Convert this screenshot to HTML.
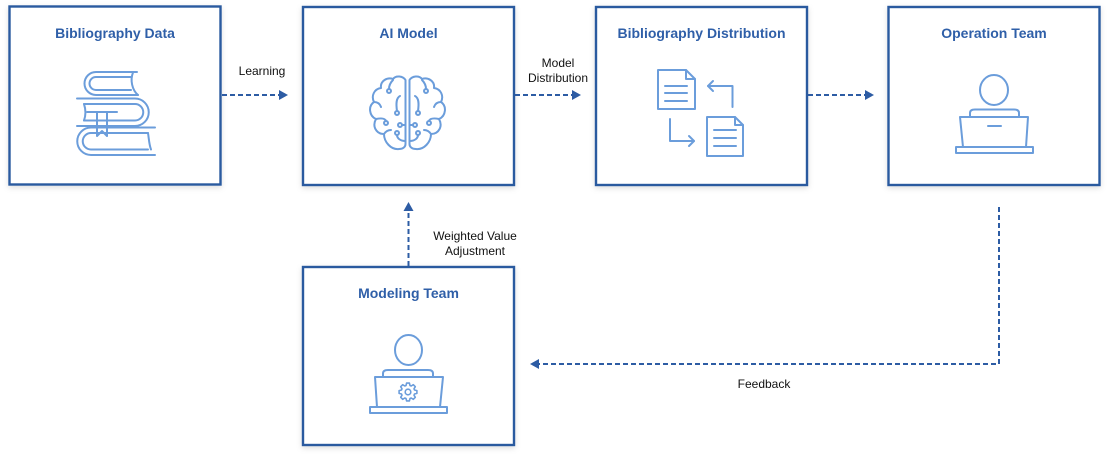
<!DOCTYPE html>
<html>
<head>
<meta charset="utf-8">
<style>
  html, body { margin:0; padding:0; background:#ffffff; }
  body { width:1110px; height:458px; overflow:hidden; }
  svg { display:block; }
  .title { font-family:"Liberation Sans", sans-serif; font-weight:bold; font-size:14px; fill:#2f5fa8; }
  .lbl { font-family:"Liberation Sans", sans-serif; font-size:12px; fill:#111111; }
  .box { fill:#ffffff; stroke:#2c5a9f; stroke-width:2.4; }
  .ic { fill:none; stroke:#6b9ddb; stroke-width:2; stroke-linecap:round; stroke-linejoin:round; }
  .dash { fill:none; stroke:#2d5ca4; stroke-width:2; stroke-dasharray:5 3; }
  .ah { fill:#2d5ca4; }
</style>
</head>
<body>
<svg width="1110" height="458" viewBox="0 0 1110 458" xmlns="http://www.w3.org/2000/svg">
  <defs>
    <filter id="sh" x="-10%" y="-10%" width="120%" height="125%">
      <feDropShadow dx="0" dy="2" stdDeviation="3" flood-color="#000" flood-opacity="0.13"/>
    </filter>
  </defs>

  <!-- Boxes -->
  <rect class="box" x="9.5" y="6.5" width="211" height="178" filter="url(#sh)"/>
  <rect class="box" x="303" y="7" width="211" height="178" filter="url(#sh)"/>
  <rect class="box" x="596" y="7" width="211" height="178" filter="url(#sh)"/>
  <rect class="box" x="888.5" y="7" width="211" height="178" filter="url(#sh)"/>
  <rect class="box" x="303" y="267" width="211" height="178" filter="url(#sh)"/>

  <!-- Titles -->
  <text class="title" x="115" y="38" text-anchor="middle">Bibliography Data</text>
  <text class="title" x="408.5" y="38" text-anchor="middle">AI Model</text>
  <text class="title" x="701.5" y="38" text-anchor="middle">Bibliography Distribution</text>
  <text class="title" x="994" y="38" text-anchor="middle">Operation Team</text>
  <text class="title" x="408.5" y="298" text-anchor="middle">Modeling Team</text>

  <!-- Connectors -->
  <line class="dash" x1="222" y1="95" x2="281" y2="95"/>
  <polygon class="ah" points="279,90 288,95 279,100"/>
  <text class="lbl" x="262" y="75" text-anchor="middle">Learning</text>

  <line class="dash" x1="515" y1="95" x2="574" y2="95"/>
  <polygon class="ah" points="572,90 581,95 572,100"/>
  <text class="lbl" x="558" y="67" text-anchor="middle">Model</text>
  <text class="lbl" x="558" y="82" text-anchor="middle">Distribution</text>

  <line class="dash" x1="808" y1="95" x2="867" y2="95"/>
  <polygon class="ah" points="865,90 874,95 865,100"/>

  <polyline class="dash" points="999,207 999,364 537,364"/>
  <polygon class="ah" points="539,359 530,364 539,369"/>
  <text class="lbl" x="764" y="388" text-anchor="middle">Feedback</text>

  <line class="dash" x1="408.5" y1="266" x2="408.5" y2="209"/>
  <polygon class="ah" points="403.5,211 408.5,202 413.5,211"/>
  <text class="lbl" x="475" y="240" text-anchor="middle">Weighted Value</text>
  <text class="lbl" x="475" y="255" text-anchor="middle">Adjustment</text>

  <!-- Books icon -->
  <g class="ic">
    <path d="M137,72 H96 A11.5,11.5 0 0 0 96,95 H138"/>
    <path d="M131,77 H96 A6.5,6.5 0 0 0 96,90 H131"/>
    <path d="M133,72.5 C130,80 132,90 138,95"/>
    <path d="M77,98.5 H135 A13.75,13.75 0 0 1 135,126 H77"/>
    <path d="M84,104 H135 A8.25,8.25 0 0 1 135,120.5 H84"/>
    <path d="M84,104 C86,110 86,115 84,120.5"/>
    <path d="M87,112 H117"/>
    <path d="M97,112 V136 L102,131 L107,136 V112"/>
    <path d="M155,127.5 H91 A13.75,13.75 0 0 0 91,155 H155"/>
    <path d="M148,133 H91 A8.25,8.25 0 0 0 91,149.5 H148"/>
    <path d="M148,133 C149,139 149,144 151,149.5"/>
  </g>

  <!-- Brain icon -->
  <g class="ic" stroke-width="1.8">
    <g id="lh">
      <path d="M405.5,80 C403,76 396,75 393,79 C387,77 380,81 381,88 C374,89 371,96 374,102 C368,106 369,116 376,119 C372,126 376,134 384,134 C384,142 391,150 399,149 C403,149 405.5,147 405.5,144 Z"/>
      <path d="M393,80 C390,83 389,86 389,89"/>
      <circle cx="389" cy="91" r="2"/>
      <path d="M400,96 C396,98 396,104 397,111"/>
      <circle cx="397" cy="113" r="2"/>
      <path d="M376,119 C381,118 385,118 386,121"/>
      <circle cx="386" cy="123" r="2"/>
      <path d="M405.5,125 H402"/>
      <circle cx="400" cy="125" r="2"/>
      <path d="M405.5,141 C400,141 397,138 397,135"/>
      <circle cx="397" cy="133" r="2"/>
      <path d="M374,102 C378,102 380,104 381,107"/>
      <path d="M384,134 C386,131 389,130 391,130"/>
    </g>
    <g transform="translate(815,0) scale(-1,1)">
      <path d="M405.5,80 C403,76 396,75 393,79 C387,77 380,81 381,88 C374,89 371,96 374,102 C368,106 369,116 376,119 C372,126 376,134 384,134 C384,142 391,150 399,149 C403,149 405.5,147 405.5,144 Z"/>
      <path d="M393,80 C390,83 389,86 389,89"/>
      <circle cx="389" cy="91" r="2"/>
      <path d="M400,96 C396,98 396,104 397,111"/>
      <circle cx="397" cy="113" r="2"/>
      <path d="M376,119 C381,118 385,118 386,121"/>
      <circle cx="386" cy="123" r="2"/>
      <path d="M405.5,125 H402"/>
      <circle cx="400" cy="125" r="2"/>
      <path d="M405.5,141 C400,141 397,138 397,135"/>
      <circle cx="397" cy="133" r="2"/>
      <path d="M374,102 C378,102 380,104 381,107"/>
      <path d="M384,134 C386,131 389,130 391,130"/>
    </g>
  </g>

  <!-- Documents icon -->
  <g class="ic" stroke-linecap="butt" stroke-linejoin="miter">
    <path d="M658,70 H686 L695,79 V109 H658 Z"/>
    <path d="M686,70 V79 H695"/>
    <path d="M665,86 H687 M665,93 H687 M665,101 H687"/>
    <path d="M707,117 H735 L743,125 V156 H707 Z"/>
    <path d="M735,117 V125 H743"/>
    <path d="M714,130 H736 M714,138 H736 M714,146 H736"/>
    <path d="M732.5,107 V86 H708"/>
    <path d="M713,81 L708,86 L713,91"/>
    <path d="M670,119 V141 H694"/>
    <path d="M689,136 L694,141 L689,146"/>
  </g>

  <!-- Operation team icon -->
  <g class="ic">
    <ellipse cx="994" cy="90" rx="14" ry="15"/>
    <path d="M970,117 V113 Q970,109.5 975,109.5 H1014 Q1019,109.5 1019,113 V117"/>
    <polygon points="960,117 1028,117 1026,147 963,147"/>
    <rect x="956" y="147" width="77" height="6"/>
    <path d="M988,126 H1001"/>
  </g>

  <!-- Modeling team icon -->
  <g class="ic">
    <ellipse cx="408.5" cy="350" rx="13.5" ry="15"/>
    <path d="M383,377 V373.5 Q383,370 388,370 H428 Q433,370 433,373.5 V377"/>
    <polygon points="375,377 443,377 440,407 377,407"/>
    <rect x="370" y="407" width="77" height="6"/>
    <polygon stroke-width="1.6" points="414.5,390.0 416.9,390.6 416.9,393.4 414.5,394.0 414.0,395.2 415.3,397.3 413.3,399.3 411.2,398.0 410.0,398.5 409.4,400.9 406.6,400.9 406.0,398.5 404.8,398.0 402.7,399.3 400.7,397.3 402.0,395.2 401.5,394.0 399.1,393.4 399.1,390.6 401.5,390.0 402.0,388.8 400.7,386.7 402.7,384.7 404.8,386.0 406.0,385.5 406.6,383.1 409.4,383.1 410.0,385.5 411.2,386.0 413.3,384.7 415.3,386.7 414.0,388.8"/>
    <circle cx="408" cy="392" r="2.8" stroke-width="1.6"/>
  </g>
</svg>
</body>
</html>
